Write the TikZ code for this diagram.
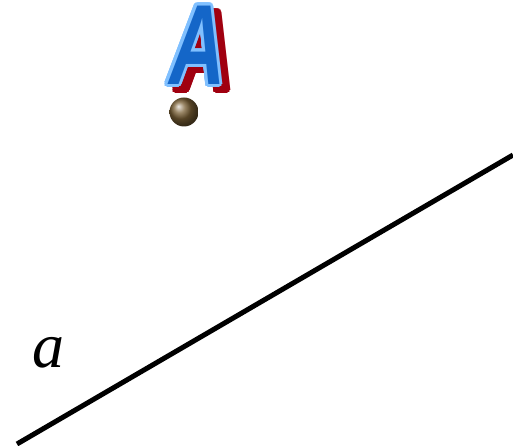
\documentclass[tikz,border=0pt]{standalone}
\usepackage{fontspec}
\newfontfamily\lsans{Liberation Sans}
\newfontfamily\lserif{Liberation Serif}
\usepackage{graphicx}
\definecolor{Ablue}{HTML}{1466C8}
\definecolor{Aline}{HTML}{80C0FF}
\definecolor{Ashadow}{HTML}{A00010}
\definecolor{ballc}{HTML}{7A6035}
\newcommand{\Aglyph}{\scalebox{0.68}[1]{\fontsize{114}{114}\selectfont\lsans\bfseries\itshape A}}
\tikzset{glyph/.style={inner sep=0pt, outer sep=0pt}}
\begin{document}
\begin{tikzpicture}[x=1pt,y=1pt]
\useasboundingbox (0,0) rectangle (513,446);
\coordinate (L1) at (17,2);
\coordinate (L2) at (513,291);
\draw[line width=5pt] (L1) -- (L2);
\node[glyph, font=\fontsize{64}{64}\selectfont\lserif\itshape] (alab) at (48,93) {a};
\coordinate (Apos) at (197,401);
\coordinate (Shpos) at (205,395);
\foreach \ang in {0,15,...,345}
  \node[glyph, text=Ashadow] at ([shift={(\ang:3)}]Shpos) {\Aglyph};
\foreach \ang in {0,15,...,345}
  \node[glyph, text=Aline] at ([shift={(\ang:3)}]Apos) {\Aglyph};
\node[glyph, text=Ablue] (Alab) at (Apos) {\Aglyph};
\node[circle, minimum size=29pt, inner sep=0pt, shading=ball, ball color=ballc] (P) at (184,334) {};
\end{tikzpicture}
\end{document}
